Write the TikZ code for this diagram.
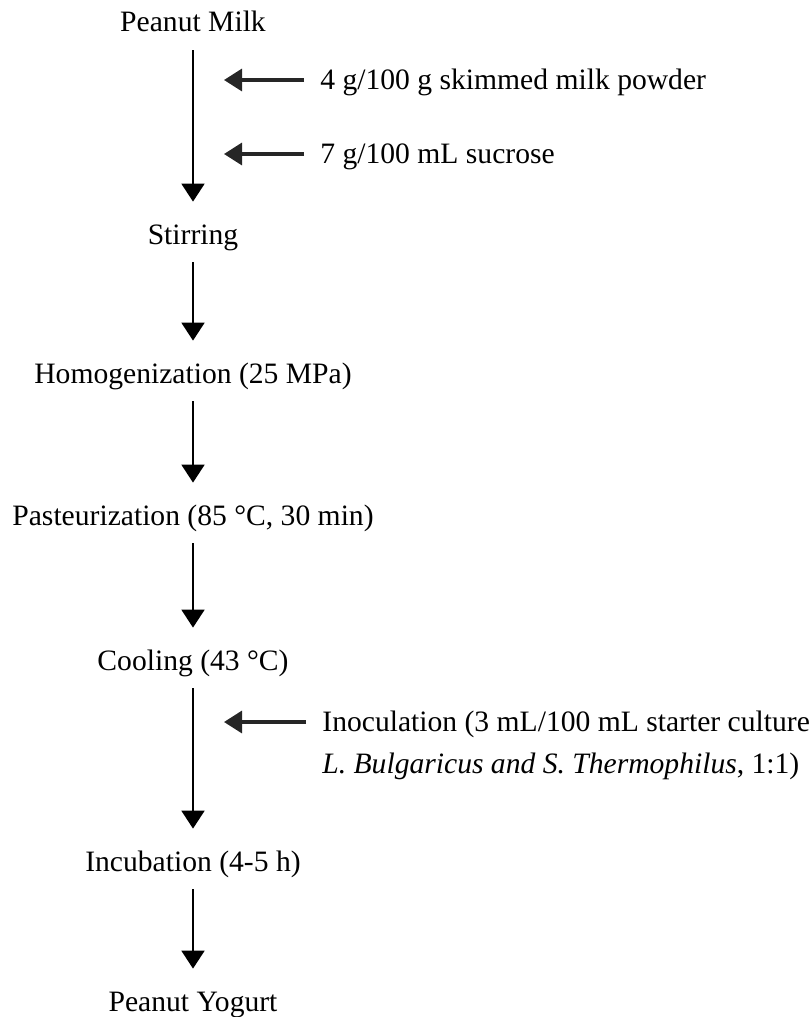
\documentclass[tikz,border=0pt]{standalone}
\usepackage{fontspec}
\setmainfont{Liberation Serif}
\usetikzlibrary{arrows.meta, positioning}
\tikzstyle{flow}=[x=0.5pt, y=-0.5pt, on grid, font=\fontsize{14.8}{17.8}\selectfont]
\tikzstyle{stage}=[inner sep=0pt, text height=9pt, text depth=0pt]
\tikzstyle{input}=[inner sep=0pt, text height=9pt, text depth=0pt]
\tikzstyle{down}=[-{Triangle[width=11.5pt,length=9pt]}, line width=1pt, shorten <=9pt, shorten >=12pt]
\tikzstyle{feed}=[-{Triangle[width=11pt,length=9pt]}, line width=1.6pt, black!85, shorten <=8pt]

\begin{document}
\begin{tikzpicture}[flow]
  \useasboundingbox (0,0) rectangle (812,1017);
  \node[stage] (milk) at (193,23) {Peanut Milk};
  \node[stage] (stir) [below=106pt of milk] {Stirring};
  \node[stage] (homog) [below=69.5pt of stir] {Homogenization (25 MPa)};
  \node[stage] (past) [below=71pt of homog] {Pasteurization (85 °C, 30 min)};
  \node[stage] (cool) [below=72.5pt of past] {Cooling (43 °C)};
  \node[stage] (incub) [below=100.5pt of cool] {Incubation (4-5 h)};
  \node[stage] (yog) [below=70pt of incub] {Peanut Yogurt};
  \node[input] (powder) [below right=28.5pt and 63.5pt of milk, anchor=west] {4 g/100 g skimmed milk powder};
  \node[input] (sucrose) [below=37pt of powder.west, anchor=west] {7 g/100 mL sucrose};
  \node[input] (inoc) [below right=30.5pt and 64.5pt of cool, anchor=west] {Inoculation (3 mL/100 mL starter culture};
  \node[input] (strain) [below=21pt of inoc.west, anchor=west] {\textit{L. Bulgaricus and S. Thermophilus}, 1:1)};
  \coordinate[left=48pt of powder.west] (powder tip);
  \coordinate[left=48pt of sucrose.west] (sucrose tip);
  \coordinate[left=49pt of inoc.west] (inoc tip);
  \path[down] (milk) edge (stir);
  \path[down] (stir) edge (homog);
  \path[down] (homog) edge (past);
  \path[down] (past) edge (cool);
  \path[down] (cool) edge (incub);
  \path[down] (incub) edge (yog);
  \path[feed] (powder) edge (powder tip);
  \path[feed] (sucrose) edge (sucrose tip);
  \path[feed] (inoc) edge (inoc tip);
\end{tikzpicture}
\end{document}
